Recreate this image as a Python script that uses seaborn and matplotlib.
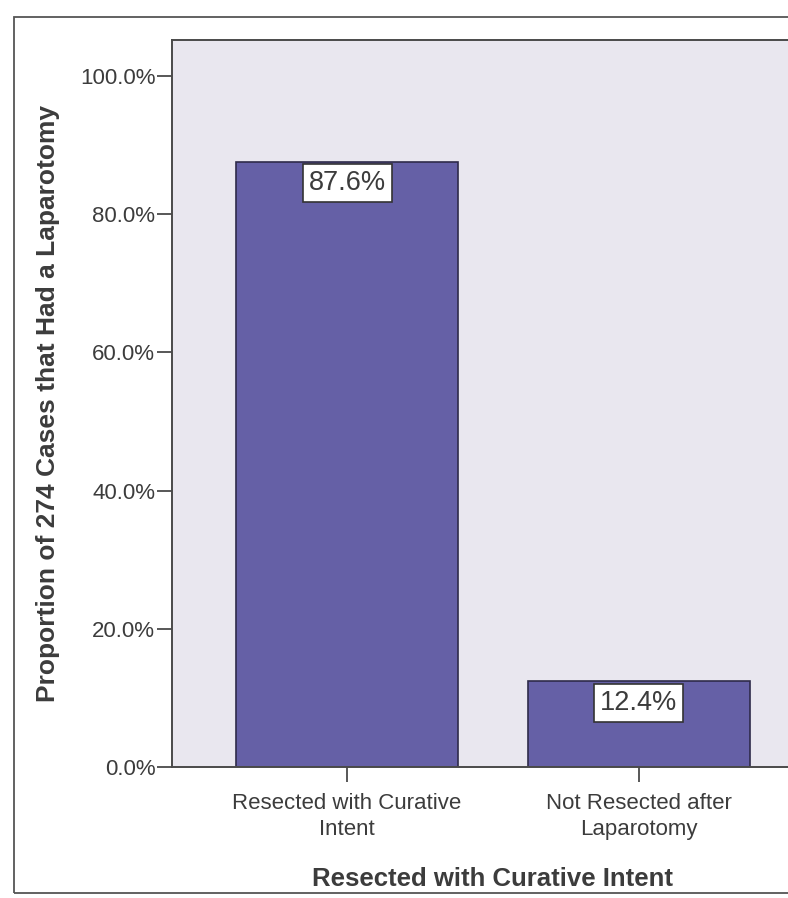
import matplotlib
matplotlib.use("Agg")
import matplotlib.pyplot as plt
from matplotlib.patches import Rectangle
from matplotlib.ticker import PercentFormatter
import seaborn as sns
import pandas as pd

# Outcome after laparotomy (share of 274 cases)
categories = ["Resected with Curative\nIntent", "Not Resected after\nLaparotomy"]
proportions = [0.876, 0.124]
value_labels = ["87.6%", "12.4%"]
y_ticks = [0.0, 0.2, 0.4, 0.6, 0.8, 1.0]

df = pd.DataFrame({"outcome": categories, "proportion": proportions})

sns.set_theme(style="ticks")
plt.rcParams["font.family"] = ["Liberation Sans", "DejaVu Sans"]

text_color = "#3c3c3c"
line_color = "#4a4a4a"
bar_color = "#6560a6"
panel_color = "#e9e7ef"

W, H = 788, 898
fig = plt.figure(figsize=(W / 100, H / 100), dpi=100)
fig.patch.set_facecolor("white")

# outer page frame
frame = Rectangle((14 / W, 1 - 893 / H), 1.2, (893 - 17) / H,
                  transform=fig.transFigure, fill=False,
                  edgecolor="#555555", linewidth=1.3, zorder=0)
fig.add_artist(frame)

# plot panel (extends past the right edge of the page)
left, right, top, bottom = 172, 814, 40, 767
ax = fig.add_axes([left / W, 1 - bottom / H, (right - left) / W, (bottom - top) / H])
ax.set_facecolor(panel_color)

sns.barplot(data=df, x="outcome", y="proportion", color=bar_color,
            saturation=1, width=0.76, edgecolor="#2e2b4a", linewidth=1.2, ax=ax)

ax.set_xlim(-0.6, 1.6)
ax.set_ylim(0, 1.052)
ax.set_yticks(y_ticks)
ax.yaxis.set_major_formatter(PercentFormatter(xmax=1.0, decimals=1))

for spine in ax.spines.values():
    spine.set_visible(True)
    spine.set_color(line_color)
    spine.set_linewidth(1.4)

ax.tick_params(axis="both", direction="out", length=11, width=1.3,
               color=line_color, labelcolor=text_color, labelsize=16)
ax.tick_params(axis="y", pad=1)
ax.tick_params(axis="x", pad=8)
for lab in ax.get_xticklabels():
    lab.set_linespacing(1.3)

ax.set_xlabel("Resected with Curative Intent", fontsize=18.5, fontweight="bold",
              color=text_color, labelpad=19)
ax.set_ylabel("Proportion of 274 Cases that Had a Laparotomy", fontsize=19,
              fontweight="bold", color=text_color, labelpad=14)

for i, (val, lab) in enumerate(zip(proportions, value_labels)):
    ax.annotate(lab, xy=(i, val), xytext=(0, -6), textcoords="offset points",
                ha="center", va="top", fontsize=19.5, color=text_color,
                bbox=dict(boxstyle="square,pad=0.22", facecolor="white",
                          edgecolor="#333333", linewidth=1.2))

fig.savefig("out.png", dpi=100)
